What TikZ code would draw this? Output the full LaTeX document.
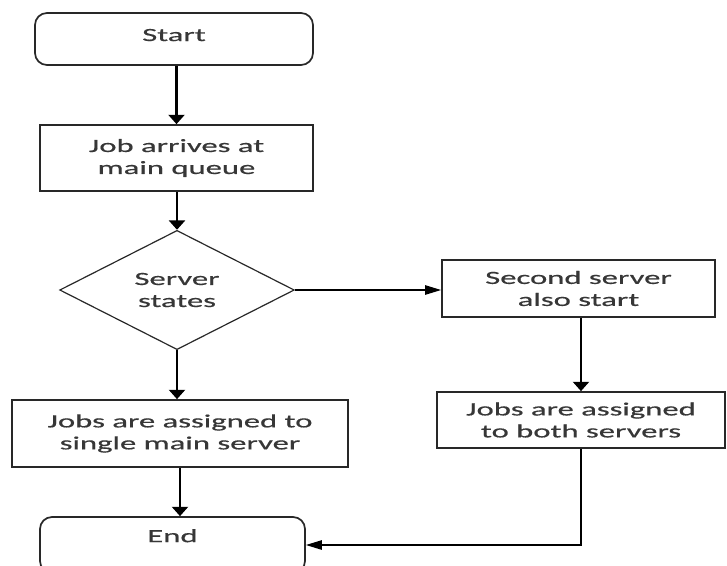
\documentclass[tikz,border=0pt]{standalone}
\usepackage{fontspec}
\setmainfont{Carlito}[FakeStretch=1.75, FakeBold=0.6]
\usetikzlibrary{shapes.geometric, arrows.meta}
\definecolor{textgray}{RGB}{55,55,55}
\definecolor{linegray}{RGB}{40,40,40}

\begin{document}
\begin{tikzpicture}[x=0.75pt, y=-0.75pt]

\tikzset{ boxstyle/.style={draw=linegray, line width=1.3pt, align=center, inner sep=0pt,
    text=textgray, font={\fontsize{14pt}{16.5pt}\selectfont}},
  roundstyle/.style={boxstyle, rounded corners=9pt},
  decisionstyle/.style={boxstyle, diamond, line width=0.9pt},
  arrowstyle/.style={-{Triangle[length=7pt, width=12pt]}, line width=1.6pt},
  sidearrowstyle/.style={-{Triangle[length=12pt, width=7pt]}, line width=1.1pt}
}

\useasboundingbox (0,0) rectangle (727,565);
\clip (0,0) rectangle (727,565);

% Left column
\node[roundstyle, minimum width=208.5pt, minimum height=39pt, text depth=6pt] (start) at (174,39) {Start};
\node[boxstyle, minimum width=204.75pt, minimum height=49.5pt] (job) at (176.5,158) {Job arrives at\\main queue};
\node[decisionstyle, minimum width=176pt, minimum height=72pt] (server) at (177,290) {Server\\states};
\node[boxstyle, minimum width=252pt, minimum height=50.25pt] (single) at (180,433.5) {Jobs are assigned to\\single main server};
\node[roundstyle, minimum width=198.75pt, minimum height=42pt, text depth=14pt] (end) at (172.5,545) {End};

% Right column
\node[boxstyle, minimum width=204.75pt, minimum height=42.75pt] (second) at (578.5,288.5) {Second server\\also start};
\node[boxstyle, minimum width=216pt, minimum height=42pt] (both) at (581,420) {Jobs are assigned\\to both servers};

% Arrows
\draw[arrowstyle] (job.north |- start.south) -- (job.north);
\draw[arrowstyle] (job.south -| server.north) -- (server.north);
\draw[arrowstyle] (server.south) -- (server.south |- single.north);
\draw[arrowstyle] (single.south) -- (single.south |- end.north);
\draw[sidearrowstyle] (server.east) -- (server.east -| second.west);
\draw[arrowstyle] (second.south -| both.north) -- (both.north);
\draw[sidearrowstyle, line width=1.2pt] (both.south) |- (end.east);

\end{tikzpicture}
\end{document}
